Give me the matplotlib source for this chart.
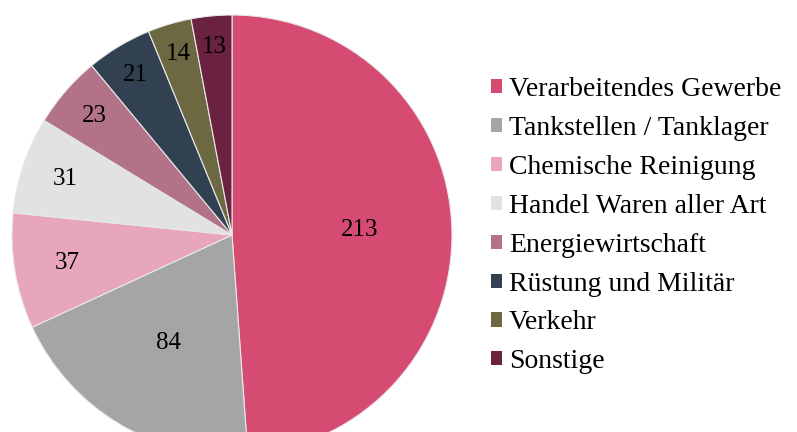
import numpy as np
import matplotlib.pyplot as plt
from matplotlib.patches import Patch

labels = ['Verarbeitendes Gewerbe', 'Tankstellen / Tanklager', 'Chemische Reinigung',
          'Handel Waren aller Art', 'Energiewirtschaft', 'Rüstung und Militär',
          'Verkehr', 'Sonstige']
values = [213, 84, 37, 31, 23, 21, 14, 13]
colors = ['#D64B72', '#A5A5A5', '#E8A6BE', '#E2E2E2', '#B27388', '#314152',
          '#6B6842', '#6B2140']
# radial label distance per slice (fraction of radius)
label_r = [0.58, 0.57, 0.76, 0.80, 0.83, 0.85, 0.86, 0.86]

plt.rcParams['font.family'] = ['Liberation Serif', 'DejaVu Serif']

fig = plt.figure(figsize=(7.97, 4.32), dpi=100)
ax = fig.add_axes([12/797, -23/432, 440/797, 440/432])

wedges, _ = ax.pie(values, colors=colors, startangle=90, counterclock=False,
                   wedgeprops=dict(edgecolor='#e8e8e8', linewidth=0.8))
for w, v, r in zip(wedges, values, label_r):
    ang = np.deg2rad((w.theta1 + w.theta2) / 2)
    ax.text(r*np.cos(ang), r*np.sin(ang), str(v), ha='center', va='center',
            fontsize=18, color='black')
ax.set_xlim(-1, 1)
ax.set_ylim(-1, 1)
ax.set_aspect('equal')

handles = [Patch(facecolor=c, edgecolor='none') for c in colors]
fig.legend(handles, labels, loc='upper left', bbox_to_anchor=(480/797, 1 - 66/432),
           frameon=False, fontsize=20, handlelength=0.4, handleheight=0.4,
           handletextpad=0.25, labelspacing=0.5, borderaxespad=0)

plt.savefig('out.png', dpi=100)
